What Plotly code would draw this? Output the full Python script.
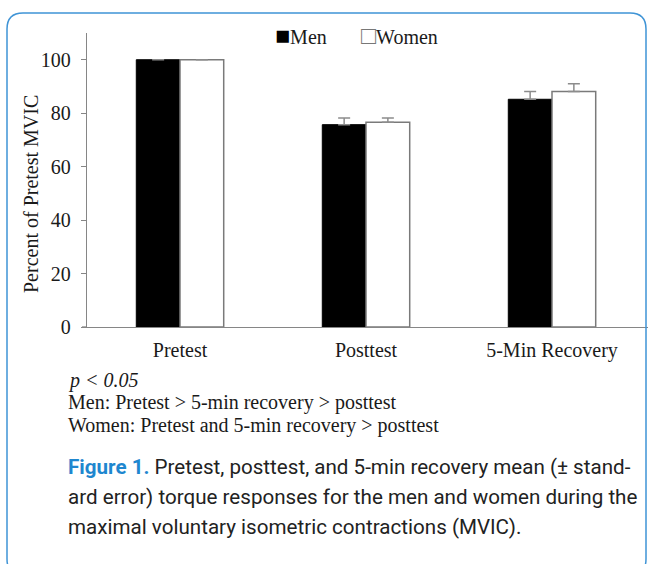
import plotly.graph_objects as go

categories = ["Pretest", "Posttest", "5-Min Recovery"]
men_values = [100.0, 75.7, 85.2]
men_errors = [0.0, 2.5, 2.9]
women_values = [100.0, 76.6, 88.1]
women_errors = [0.0, 1.6, 2.9]
series_names = ["Men", "Women"]
y_ticks = [0, 20, 40, 60, 80, 100]
y_title = "Percent of Pretest MVIC"

W, H = 648, 564
L, R, T, B = 87, 0, 33, 237
PW, PH = W - L - R, H - T - B

def px(x):
    return (x - L) / PW

def py(y):
    return (H - B - y) / PH

SERIF = "Liberation Serif, Times New Roman, serif"
GRAY = "#868686"
FS = 20

fig = go.Figure()
fig.add_trace(go.Bar(
    x=categories, y=men_values, name=series_names[0],
    marker=dict(color="#000000", line=dict(color="#000000", width=1)),
    error_y=dict(type="data", symmetric=False, array=men_errors,
                 arrayminus=[0, 0, 0], color="#8c8c8c", thickness=1.5, width=6),
    showlegend=False,
))
fig.add_trace(go.Bar(
    x=categories, y=women_values, name=series_names[1],
    marker=dict(color="#ffffff", line=dict(color="#7a7a7a", width=1.5)),
    error_y=dict(type="data", symmetric=False, array=women_errors,
                 arrayminus=[0, 0, 0], color="#8c8c8c", thickness=1.5, width=6),
    showlegend=False,
))

fig.update_layout(
    width=W, height=H,
    margin=dict(l=L, r=R, t=T, b=B, pad=0),
    paper_bgcolor="white", plot_bgcolor="white",
    barmode="group", bargap=0.53, bargroupgap=0,
    font=dict(family=SERIF, size=FS, color="#1a1a1a"),
    xaxis=dict(
        type="category", range=[-0.5, 2.5 + 3 / 186],
        showline=True, linecolor=GRAY, linewidth=1.3,
        ticks="", showgrid=False, zeroline=False,
        tickfont=dict(family=SERIF, size=FS, color="#1a1a1a"),
        ticklabelstandoff=5,
    ),
    yaxis=dict(
        range=[0, 110], tickvals=y_ticks,
        showline=True, linecolor=GRAY, linewidth=1.3,
        ticks="outside", ticklen=5, tickcolor=GRAY, tickwidth=1.3,
        showgrid=False, zeroline=False,
        tickfont=dict(family=SERIF, size=FS, color="#1a1a1a"),
        ticklabelstandoff=6,
    ),
)

# y-axis title
fig.add_annotation(xref="paper", yref="paper", x=px(31), y=py(194),
                   xanchor="center", yanchor="middle", showarrow=False,
                   textangle=-90, text=y_title,
                   font=dict(family=SERIF, size=FS, color="#1a1a1a"))

# x-axis line extension to the left for the 0 tick
fig.add_shape(type="line", xref="paper", yref="paper",
              x0=px(82), x1=px(87), y0=0, y1=0,
              line=dict(color=GRAY, width=1.3))

# legend as text
fig.add_annotation(xref="paper", yref="paper", x=px(273), y=py(35),
                   xanchor="left", yanchor="middle", showarrow=False,
                   text="<span style='color:#000;font-size:25px'>■</span>" + series_names[0],
                   font=dict(family=SERIF, size=FS, color="#1a1a1a"))
fig.add_annotation(xref="paper", yref="paper", x=px(359), y=py(35),
                   xanchor="left", yanchor="middle", showarrow=False,
                   text="<span style='color:#777;font-size:25px'>□</span>" + series_names[1],
                   font=dict(family=SERIF, size=FS, color="#1a1a1a"))

notes = [
    ("<i>p < 0.05</i>", 380),
    ("Men: Pretest > 5-min recovery > posttest", 402),
    ("Women: Pretest and 5-min recovery > posttest", 425),
]
for txt, yy in notes:
    fig.add_annotation(xref="paper", yref="paper", x=px(66), y=py(yy),
                       xanchor="left", yanchor="middle", showarrow=False,
                       text=txt, font=dict(family=SERIF, size=FS, color="#1a1a1a"))

SANS = "Roboto, Open Sans, sans-serif"
caption = [
    ("<b style='color:#1f87cf'>Figure 1.</b> Pretest, posttest, and 5-min recovery mean (± stand-", 467),
    ("ard error) torque responses for the men and women during the", 497),
    ("maximal voluntary isometric contractions (MVIC).", 527),
]
for txt, yy in caption:
    fig.add_annotation(xref="paper", yref="paper", x=px(66), y=py(yy),
                       xanchor="left", yanchor="middle", showarrow=False,
                       text=txt, font=dict(family=SANS, size=20.6, color="#222222"))

# rounded border
x0, x1, y0, y1, r = 7, 646, 13, 575, 16
path = (f"M {px(x0)},{py(y0 + r)} "
        f"Q {px(x0)},{py(y0)} {px(x0 + r)},{py(y0)} "
        f"L {px(x1 - r)},{py(y0)} "
        f"Q {px(x1)},{py(y0)} {px(x1)},{py(y0 + r)} "
        f"L {px(x1)},{py(y1 - r)} "
        f"Q {px(x1)},{py(y1)} {px(x1 - r)},{py(y1)} "
        f"L {px(x0 + r)},{py(y1)} "
        f"Q {px(x0)},{py(y1)} {px(x0)},{py(y1 - r)} Z")
fig.add_shape(type="path", xref="paper", yref="paper", path=path,
              line=dict(color="#3f94d6", width=1.5), layer="above")

fig.write_html("out.html", config={"displayModeBar": False},
               post_script="document.body.style.margin='0';document.body.style.overflow='hidden';")
